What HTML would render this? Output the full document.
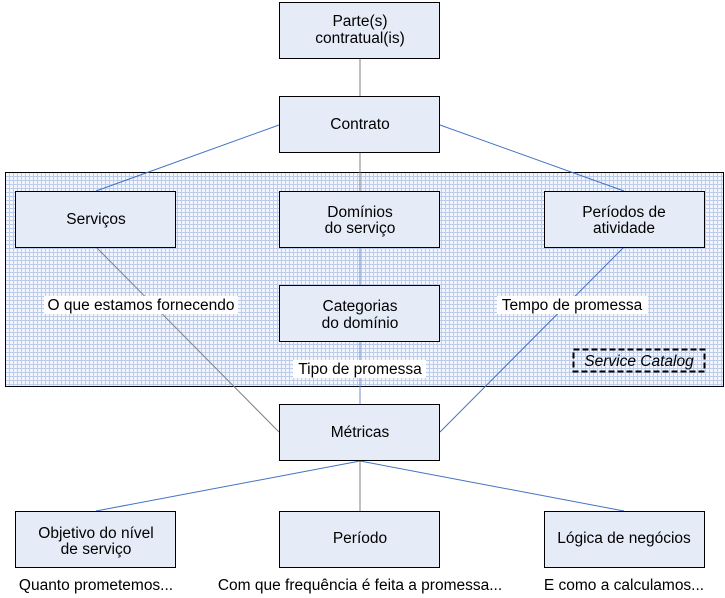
<!DOCTYPE html>
<html><head><meta charset="utf-8"><style>
html,body{margin:0;padding:0;background:#fff;}
svg{display:block;font-family:"Liberation Sans",sans-serif;font-size:15.5px;}
</style></head><body>
<svg width="725" height="598" viewBox="0 0 725 598" xmlns="http://www.w3.org/2000/svg">
<defs>
<pattern id="g" x="5" y="172" width="4" height="4" patternUnits="userSpaceOnUse">
<rect width="4" height="4" fill="#f4f6fb"/>
<path d="M0 0.5H4M0.5 0V4" stroke="#bccdeb" stroke-width="1"/>
</pattern>
</defs>
<rect x="5.5" y="172.5" width="718" height="214" fill="url(#g)" stroke="#000" stroke-width="1"/>
<g stroke-width="1" fill="none">
<line x1="360" y1="58" x2="360" y2="96" stroke="#808080"/>
<line x1="279" y1="125" x2="96" y2="191" stroke="#4472c4"/>
<line x1="440" y1="125" x2="624" y2="191" stroke="#4472c4"/>
<line x1="360" y1="153" x2="360" y2="191" stroke="#808080"/>
<line x1="360" y1="247" x2="360" y2="285" stroke="#6d8fcc"/>
<line x1="360" y1="342" x2="360" y2="404" stroke="#6d8fcc"/>
<line x1="96" y1="247" x2="279" y2="432" stroke="#808080"/>
<line x1="624" y1="247" x2="440" y2="432" stroke="#4472c4"/>
<line x1="360" y1="461" x2="96" y2="511" stroke="#4472c4"/>
<line x1="360" y1="461" x2="360" y2="511" stroke="#808080"/>
<line x1="360" y1="461" x2="624" y2="511" stroke="#4472c4"/>
</g>
<g fill="#e6ecf7" stroke="#000" stroke-width="1">
<rect x="279.5" y="2.5" width="160" height="56"/>
<rect x="279.5" y="96.5" width="160" height="56"/>
<rect x="15.5" y="191.5" width="160" height="56"/>
<rect x="279.5" y="191.5" width="160" height="56"/>
<rect x="544.5" y="191.5" width="160" height="56"/>
<rect x="279.5" y="285.5" width="160" height="56"/>
<rect x="279.5" y="404.5" width="160" height="56"/>
<rect x="15.5" y="511.5" width="160" height="56"/>
<rect x="279.5" y="511.5" width="160" height="56"/>
<rect x="544.5" y="511.5" width="160" height="56"/>
</g>
<g fill="#fff">
<rect x="44" y="296" width="194" height="18"/>
<rect x="497" y="296" width="151" height="18"/>
<rect x="293" y="360" width="133" height="18"/>
</g>
<rect x="573.5" y="349.5" width="131" height="22" fill="none" stroke="#000" stroke-width="2" stroke-dasharray="6,3"/>
<g fill="#000" text-anchor="middle">
<text x="360" y="26">Parte(s)</text><text x="360" y="43">contratual(is)</text>
<text x="360" y="129">Contrato</text>
<text x="96" y="224">Serviços</text>
<text x="360" y="217">Domínios</text><text x="360" y="233">do serviço</text>
<text x="624" y="217">Períodos de</text><text x="624" y="233">atividade</text>
<text x="360" y="311">Categorias</text><text x="360" y="328">do domínio</text>
<text x="360" y="437">Métricas</text>
<text x="96" y="538">Objetivo do nível</text><text x="96" y="554">de serviço</text>
<text x="360" y="543">Período</text>
<text x="624" y="543">Lógica de negócios</text>
<text x="141" y="310">O que estamos fornecendo</text>
<text x="572" y="310">Tempo de promessa</text>
<text x="360" y="374">Tipo de promessa</text>
<text x="639" y="366" font-style="italic">Service Catalog</text>
<text x="96" y="590">Quanto prometemos...</text>
<text x="360" y="590">Com que frequência é feita a promessa...</text>
<text x="624" y="590">E como a calculamos...</text>
</g>
</svg>
</body></html>
